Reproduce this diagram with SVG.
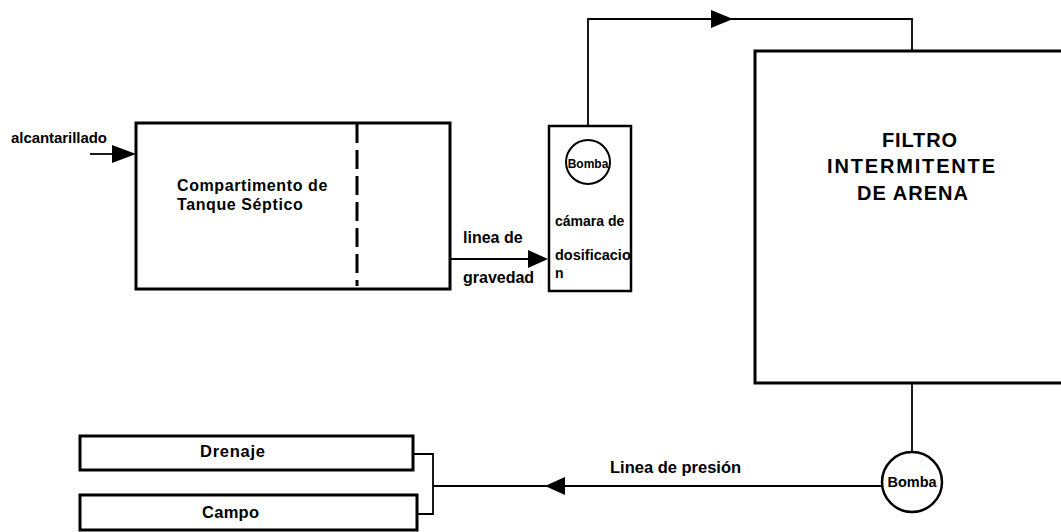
<svg xmlns="http://www.w3.org/2000/svg" width="1061" height="532" viewBox="0 0 1061 532">
<style>
text{font-family:"Liberation Sans",Arial,sans-serif;font-weight:bold;fill:#000}
.box{fill:#fff;stroke:#000;stroke-width:3}
.ln{fill:none;stroke:#000;stroke-width:1.8}
.ah{fill:#000;stroke:none}
</style>
<rect width="1061" height="532" fill="#fff"/>
<g id="connectors">
<line class="ln" x1="90" y1="154" x2="116" y2="154"/>
<polygon class="ah" points="112,145 136,154 112,163"/>
<line class="ln" x1="450" y1="259" x2="530" y2="259"/>
<polygon class="ah" points="528,250 548,259 528,268"/>
<polyline class="ln" points="588,139 588,19 912,19 912,51"/>
<polygon class="ah" points="711,10 733,19 711,28"/>
<line class="ln" x1="912" y1="383" x2="912" y2="452"/>
<line class="ln" x1="882" y1="486" x2="433" y2="486"/>
<polygon class="ah" points="565,477 545,486 565,495"/>
<polyline class="ln" points="413,454 433,454 433,514 417,514"/>
</g>
<g id="alcantarillado">
<text x="11" y="143" font-size="15" textLength="96">alcantarillado</text>
</g>
<g id="tanque">
<rect class="box" x="136" y="123" width="314" height="166"/>
<line x1="357" y1="124" x2="357" y2="286" stroke="#000" stroke-width="3" stroke-dasharray="19,7"/>
<text x="177" y="191" font-size="16" letter-spacing="0.6">Compartimento de</text>
<text x="177" y="210" font-size="16" letter-spacing="0.6">Tanque Séptico</text>
</g>
<g id="gravedad-label">
<text x="463" y="243" font-size="16">linea de</text>
<text x="463" y="283" font-size="16">gravedad</text>
</g>
<g id="camara">
<rect x="549" y="126" width="82" height="165" fill="#fff" stroke="#000" stroke-width="2.5"/>
<circle cx="588" cy="162" r="22" fill="#fff" stroke="#000" stroke-width="2"/>
<text x="588" y="168" font-size="12" text-anchor="middle">Bomba</text>
<text x="555" y="226" font-size="14">cámara de</text>
<text x="555" y="260" font-size="14.5">dosificacio</text>
<text x="555" y="278" font-size="14">n</text>
</g>
<g id="filtro">
<path d="M1063,51 L755,51 L755,383 L1063,383" fill="#fff" stroke="#000" stroke-width="3"/>
<text x="882" y="147" font-size="20" textLength="75">FILTRO</text>
<text x="827" y="173" font-size="20" textLength="168">INTERMITENTE</text>
<text x="857" y="200" font-size="20" textLength="111">DE ARENA</text>
</g>
<g id="bomba2">
<circle cx="912" cy="482" r="30" fill="#fff" stroke="#000" stroke-width="2.5"/>
<text x="912" y="487" font-size="14.5" text-anchor="middle">Bomba</text>
</g>
<g id="presion-label">
<text x="610" y="473" font-size="16.5">Linea de presión</text>
</g>
<g id="drenaje">
<rect class="box" x="80" y="436" width="333" height="34"/>
<text x="200" y="457" font-size="16.5" textLength="65">Drenaje</text>
</g>
<g id="campo">
<rect class="box" x="80" y="495" width="337" height="35"/>
<text x="202" y="518" font-size="16.5" textLength="57">Campo</text>
</g>
</svg>
